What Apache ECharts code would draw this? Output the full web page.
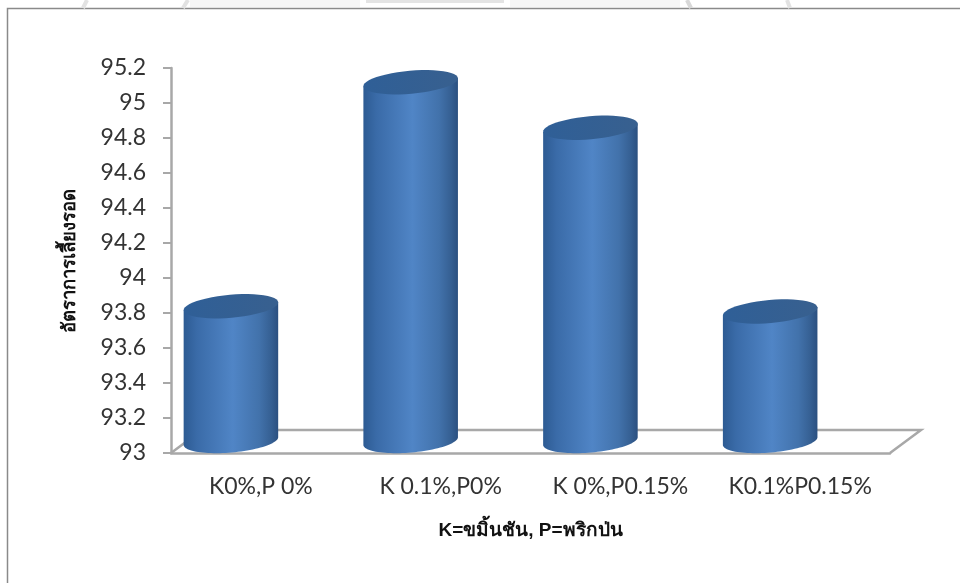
<!DOCTYPE html>
<html>
<head>
<meta charset="utf-8">
<style>html,body{margin:0;padding:0;background:#fff}#chart{width:960px;height:583px}</style>
<script src="https://cdn.jsdelivr.net/npm/echarts@6/dist/echarts.min.js"></script>
</head>
<body>
<div id="chart"></div>
<script>
// Survival rate by treatment
const categories = ['K0%,P 0%', 'K 0.1%,P0%', 'K 0%,P0.15%', 'K0.1%P0.15%'];
const survival = [93.77, 95.05, 94.79, 93.74];
const yTitle = 'อัตราการเลี้ยงรอด';
const xTitle = 'K=ขมิ้นชัน, P=พริกป่น';

const FONT = 'Lato, "Open Sans", sans-serif';
const THAI = '"Liberation Sans", "DejaVu Sans", "Noto Sans", sans-serif';
const AXIS = '#a8a8a8';
const TILT = -5 * Math.PI / 180;

// Points of a tilted ellipse between two parameter angles
function arc(cx, cy, a, b, from, to) {
  const pts = [];
  const n = 48;
  for (let i = 0; i <= n; i++) {
    const t = from + (to - from) * i / n;
    pts.push([
      cx + a * Math.cos(t) * Math.cos(TILT) - b * Math.sin(t) * Math.sin(TILT),
      cy + a * Math.cos(t) * Math.sin(TILT) + b * Math.sin(t) * Math.cos(TILT)
    ]);
  }
  return pts;
}

function renderCylinder(params, api) {
  const idx = api.value(0);
  const top = api.coord([idx, api.value(1)]);
  const base = api.coord([idx, 93]);
  const band = api.size([1, 0])[0];
  const a = band * 0.264;
  const b = 11.5;
  const cx = top[0] - band / 6;
  const depth = 12;
  const yt = top[1] - depth;
  const yb = base[1] - depth;
  // The wall stops at the widest chord of the top face, which is drawn over it
  const rim = arc(cx, yt, a, b, 0, Math.PI);
  const body = arc(cx, yb, a, b, Math.PI, 0).concat([rim[0], rim[rim.length - 1]]);
  return {
    type: 'group',
    children: [
      {
        type: 'polygon',
        shape: { points: body },
        style: {
          fill: {
            type: 'linear', x: 0, y: 0, x2: 1, y2: 0,
            colorStops: [
              { offset: 0, color: '#2d5b93' },
              { offset: 0.14, color: '#3a6ba8' },
              { offset: 0.52, color: '#5085c6' },
              { offset: 0.8, color: '#4272ab' },
              { offset: 0.93, color: '#355f92' },
              { offset: 1, color: '#2b5080' }
            ]
          }
        }
      },
      {
        type: 'polygon',
        shape: { points: arc(cx, yt, a, b, 0, Math.PI * 2) },
        style: {
          fill: {
            type: 'linear', x: 0, y: 0, x2: 1, y2: 0,
            colorStops: [
              { offset: 0, color: '#2f5f97' },
              { offset: 1, color: '#38608f' }
            ]
          }
        }
      }
    ]
  };
}

// Floor of the plot: the back edge and the two receding sides
function renderFloor(params, api) {
  const left = api.coord([0, 93]);
  const band = api.size([1, 0])[0];
  const x0 = left[0] - band / 2;
  const x1 = x0 + band * categories.length;
  const y = left[1];
  return {
    type: 'polyline',
    shape: { points: [[x0, y], [x0 + 31, y - 23], [x1 + 31, y - 23], [x1, y]] },
    style: { stroke: AXIS, lineWidth: 2.5, fill: 'none' }
  };
}

const chart = echarts.init(document.getElementById('chart'), null, { renderer: 'canvas' });
chart.setOption({
  animation: false,
  backgroundColor: '#fff',
  graphic: [
    // Chart-area frame: open on the right and at the bottom
    { type: 'polyline', silent: true, shape: { points: [[7.5, 583], [7.5, 8.5], [960, 8.5]] },
      style: { stroke: '#8a8a8a', lineWidth: 1.5, fill: 'none' } },
    // Page watermark that shows above the frame
    { type: 'line', silent: true, shape: { x1: 87, y1: 0, x2: 83, y2: 8 }, style: { stroke: '#e2e2e2', lineWidth: 4 } },
    { type: 'line', silent: true, shape: { x1: 188, y1: 0, x2: 183, y2: 8 }, style: { stroke: '#e2e2e2', lineWidth: 4 } },
    { type: 'rect', silent: true, shape: { x: 366, y: 0, width: 138, height: 3 }, style: { fill: '#e4e4e4' } },
    { type: 'rect', silent: true, shape: { x: 190, y: 0, width: 170, height: 7 }, style: { fill: '#f6f6f6' } },
    { type: 'rect', silent: true, shape: { x: 510, y: 0, width: 170, height: 7 }, style: { fill: '#f6f6f6' } },
    { type: 'line', silent: true, shape: { x1: 687, y1: 0, x2: 691, y2: 8 }, style: { stroke: '#d8d8d8', lineWidth: 4 } },
    { type: 'line', silent: true, shape: { x1: 787, y1: 0, x2: 790, y2: 8 }, style: { stroke: '#e2e2e2', lineWidth: 4 } }
  ],
  grid: { left: 171, right: 70, top: 68, bottom: 130, containLabel: false },
  xAxis: {
    type: 'category',
    data: categories,
    name: xTitle,
    nameLocation: 'middle',
    nameGap: 68,
    nameTextStyle: { fontFamily: THAI, fontSize: 19, fontWeight: 'bold', color: '#111' },
    axisLine: { lineStyle: { color: AXIS, width: 2.5 } },
    axisTick: { show: false },
    axisLabel: { interval: 0, hideOverlap: false, fontFamily: FONT, fontSize: 23, color: '#333', margin: 22 }
  },
  yAxis: {
    type: 'value',
    min: 93,
    max: 95.2,
    interval: 0.2,
    name: yTitle,
    nameLocation: 'middle',
    nameGap: 92,
    nameRotate: 90,
    nameTextStyle: { fontFamily: THAI, fontSize: 18.5, fontWeight: 'bold', color: '#111' },
    splitLine: { show: false },
    axisLine: { show: true, lineStyle: { color: AXIS, width: 2.5 } },
    axisTick: { show: true, length: 8, lineStyle: { color: AXIS, width: 2 } },
    axisLabel: { fontFamily: FONT, fontSize: 23, color: '#333', margin: 25 }
  },
  series: [
    { type: 'custom', coordinateSystem: 'cartesian2d', renderItem: renderFloor, data: [[0, 93]], z: 1, silent: true, clip: false },
    { type: 'custom', coordinateSystem: 'cartesian2d', renderItem: renderCylinder,
      encode: { x: 0, y: 1 }, data: survival.map((v, i) => [i, v]), z: 2, clip: false }
  ]
});
</script>
</body>
</html>
